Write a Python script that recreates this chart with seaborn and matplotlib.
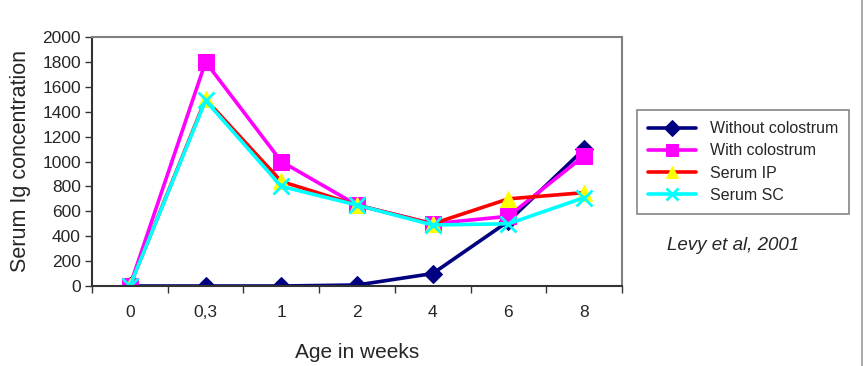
import seaborn as sns
import matplotlib.pyplot as plt
from matplotlib.lines import Line2D
from matplotlib.ticker import FixedLocator

WEEKS = ['0', '0,3', '1', '2', '4', '6', '8']
WITHOUT_COLOSTRUM = [0, 0, 0, 8, 100, 520, 1100]
WITH_COLOSTRUM = [0, 1800, 1000, 650, 500, 560, 1045]
SERUM_IP = [0, 1500, 840, 650, 500, 700, 750]
SERUM_SC = [0, 1490, 800, 650, 490, 500, 710]

sns.set_style('white')
plt.rcParams['font.family'] = ['Liberation Sans', 'DejaVu Sans']

fig = plt.figure(figsize=(8.64, 3.66), dpi=100)
ax = fig.add_axes([92 / 864, 1 - 286 / 366, (622 - 92) / 864, (286 - 37) / 366])

# one call per series so line and marker colours can differ
sns.lineplot(x=WEEKS, y=WITHOUT_COLOSTRUM, ax=ax, color='#000080', lw=2.6,
             marker='D', markersize=9, markerfacecolor='#000080', markeredgecolor='#000080',
             label='Without colostrum')
sns.lineplot(x=WEEKS, y=WITH_COLOSTRUM, ax=ax, color='#FF00FF', lw=2.6,
             marker='s', markersize=11, markerfacecolor='#FF00FF', markeredgecolor='#FF00FF',
             label='With colostrum')
sns.lineplot(x=WEEKS, y=SERUM_IP, ax=ax, color='#FF0000', lw=2.6,
             marker='^', markersize=11, markerfacecolor='#FFFF00', markeredgecolor='#FFFF00',
             label='Serum IP')
sns.lineplot(x=WEEKS, y=SERUM_SC, ax=ax, color='#00FFFF', lw=2.6,
             marker='x', markersize=11, markeredgewidth=2, markeredgecolor='#00FFFF',
             label='Serum SC')

ax.set_xlim(-0.5, len(WEEKS) - 0.5)
ax.set_ylim(0, 2000)
ax.set_yticks(range(0, 2001, 200))
ax.xaxis.set_minor_locator(FixedLocator([i - 0.5 for i in range(len(WEEKS) + 1)]))
ax.tick_params(axis='x', which='major', length=0, pad=14, labelsize=12.5)
ax.tick_params(axis='x', which='minor', length=5, width=1, color='#333333', direction='out', bottom=True)
ax.tick_params(axis='y', length=5, width=1, color='#333333', direction='out', left=True,
               labelsize=12.5, pad=3)

for side in ['top', 'right']:
    ax.spines[side].set_color('#808080')
    ax.spines[side].set_linewidth(1.5)
for side in ['left', 'bottom']:
    ax.spines[side].set_color('#333333')
    ax.spines[side].set_linewidth(1.5)

ax.set_xlabel('Age in weeks', fontsize=15, labelpad=16)
ax.set_ylabel('Serum Ig concentration', fontsize=15.5, labelpad=8)

leg = ax.legend(loc='center', bbox_to_anchor=(743 / 864, 1 - 162 / 366),
                bbox_transform=fig.transFigure, fontsize=11.5, frameon=True,
                fancybox=False, edgecolor='#666666', handlelength=3.0, markerscale=0.85,
                borderpad=0.7, borderaxespad=0, labelspacing=0.45, handletextpad=0.9)
leg.get_frame().set_linewidth(1.2)

fig.text(733 / 864, 1 - 246 / 366, 'Levy et al, 2001', style='italic',
         fontsize=13.5, ha='center', va='center')

fig.add_artist(Line2D([862 / 864, 862 / 864], [0, 1], transform=fig.transFigure,
                      color='#999999', lw=1.2))

fig.savefig('out.png', dpi=100)
